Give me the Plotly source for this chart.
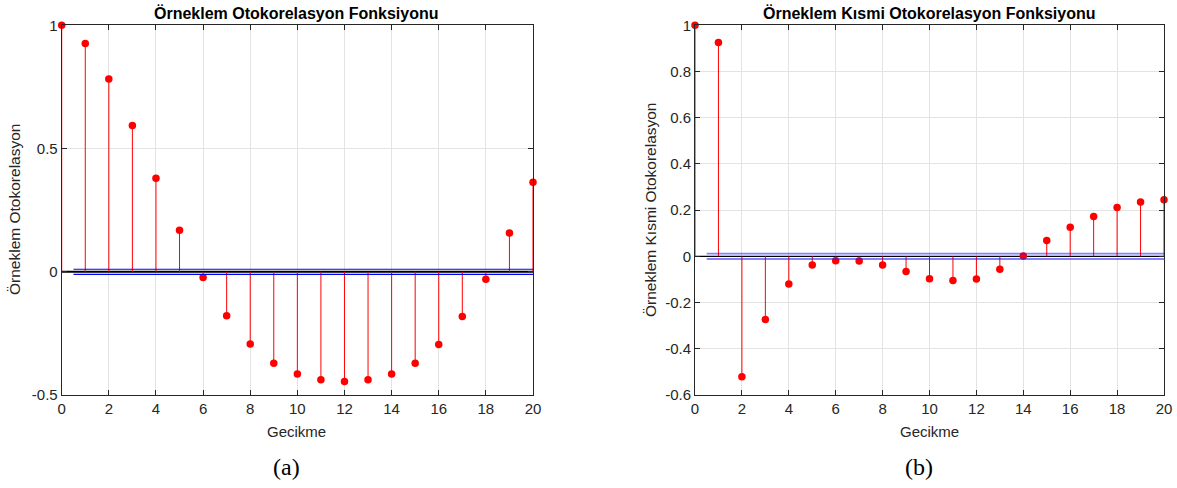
import plotly.graph_objects as go

# ---------------- data ----------------
lags = list(range(0, 21))
acf_values = [1.0, 0.926, 0.782, 0.593, 0.379, 0.168, -0.023, -0.178, -0.293, -0.371,
              -0.415, -0.438, -0.445, -0.438, -0.415, -0.371, -0.295, -0.181, -0.030,
              0.157, 0.363]
pacf_values = [1.0, 0.926, -0.521, -0.273, -0.120, -0.037, -0.019, -0.020, -0.037, -0.065,
               -0.097, -0.105, -0.098, -0.056, 0.002, 0.069, 0.126, 0.173, 0.211, 0.235,
               0.245]
acf_bound = 0.0102
pacf_bound = 0.0115
bound_start = 0.5

x_ticks = list(range(0, 21, 2))
x_ticktext = [str(v) for v in x_ticks]
acf_yticks = [-0.5, 0, 0.5, 1]
acf_yticktext = ["-0.5", "0", "0.5", "1"]
pacf_yticks = [-0.6, -0.4, -0.2, 0, 0.2, 0.4, 0.6, 0.8, 1]
pacf_yticktext = ["-0.6", "-0.4", "-0.2", "0", "0.2", "0.4", "0.6", "0.8", "1"]

title_a = "Örneklem Otokorelasyon Fonksiyonu"
title_b = "Örneklem Kısmi Otokorelasyon Fonksiyonu"
ylabel_a = "Örneklem Otokorelasyon"
ylabel_b = "Örneklem Kısmi Otokorelasyon"
xlabel = "Gecikme"
caption_a = "(a)"
caption_b = "(b)"

# ---------------- layout constants ----------------
W, H = 1177, 488
FONT = "Liberation Sans, Arial, sans-serif"
TICK_COLOR = "#262626"
GRID_COLOR = "#e3e3e3"

def px(xp):
    return xp / W

def py(yp):
    return 1 - yp / H

dom_a = [px(61.7), px(533)]
dom_b = [px(695), px(1164)]
dom_y = [py(395), py(25.3)]

fig = go.Figure()

def add_panel(values, bound, xa, ya, bound_color, bound_width, base_width):
    sx, sy = [], []
    for l, v in zip(lags, values):
        sx += [l, l, None]
        sy += [0, v, None]
    # baseline
    fig.add_trace(go.Scatter(x=[lags[0], lags[-1]], y=[0, 0], mode="lines",
                             line=dict(color="black", width=base_width), xaxis=xa, yaxis=ya,
                             showlegend=False, hoverinfo="skip"))
    fig.add_trace(go.Scatter(x=sx, y=sy, mode="lines", line=dict(color="#ff0000", width=1),
                             xaxis=xa, yaxis=ya, showlegend=False, hoverinfo="skip"))
    fig.add_trace(go.Scatter(x=lags, y=values, mode="markers",
                             marker=dict(color="#ff0000", size=7.5, line=dict(width=0)),
                             xaxis=xa, yaxis=ya, showlegend=False, cliponaxis=False))
    for b in (bound, -bound):
        fig.add_trace(go.Scatter(x=[bound_start, lags[-1]], y=[b, b], mode="lines",
                                 line=dict(color=bound_color, width=bound_width),
                                 xaxis=xa, yaxis=ya, showlegend=False, hoverinfo="skip"))

add_panel(acf_values, acf_bound, "x", "y", "#0000ff", 1.2, 2)
add_panel(pacf_values, pacf_bound, "x2", "y2", "rgba(30,30,255,0.55)", 1.8, 1.2)

axis_common = dict(showline=True, linecolor=TICK_COLOR, linewidth=1, mirror="ticks",
                   ticks="inside", ticklen=5, tickcolor=TICK_COLOR, tickwidth=1,
                   showgrid=True, gridcolor=GRID_COLOR, gridwidth=1, zeroline=False,
                   automargin=False,
                   tickfont=dict(family=FONT, size=15, color=TICK_COLOR))

fig.update_layout(
    template="none",
    width=W, height=H,
    margin=dict(l=0, r=0, t=0, b=0, pad=0),
    paper_bgcolor="white", plot_bgcolor="white",
    xaxis=dict(domain=dom_a, range=[0, 20], tickvals=x_ticks, ticktext=x_ticktext,
               anchor="y", **axis_common),
    yaxis=dict(domain=dom_y, range=[-0.5, 1], tickvals=acf_yticks, ticktext=acf_yticktext,
               anchor="x", **axis_common),
    xaxis2=dict(domain=dom_b, range=[0, 20], tickvals=x_ticks, ticktext=x_ticktext,
                anchor="y2", **axis_common),
    yaxis2=dict(domain=dom_y, range=[-0.6, 1], tickvals=pacf_yticks, ticktext=pacf_yticktext,
                anchor="x2", **axis_common),
)

ann = []
def text(x, y, s, size, angle=0, bold=False, family=FONT, color=TICK_COLOR):
    ann.append(dict(x=px(x), y=py(y), xref="paper", yref="paper", text=f"<b>{s}</b>" if bold else s,
                    showarrow=False, textangle=angle, xanchor="center", yanchor="middle",
                    font=dict(family=family, size=size, color=color)))

text(297, 13, title_a, 16, bold=True, color="black")
text(929.5, 13, title_b, 16, bold=True, color="black")
text(14, 210, ylabel_a, 15.5, angle=-90)
text(650, 210, ylabel_b, 15.5, angle=-90)
text(297, 431, xlabel, 15)
text(929.5, 431, xlabel, 15)
text(286, 467, caption_a, 24, family="Liberation Serif, Times New Roman, serif", color="black")
text(918.5, 467, caption_b, 24, family="Liberation Serif, Times New Roman, serif", color="black")
fig.update_layout(annotations=ann)

fig.write_html("out.html")
